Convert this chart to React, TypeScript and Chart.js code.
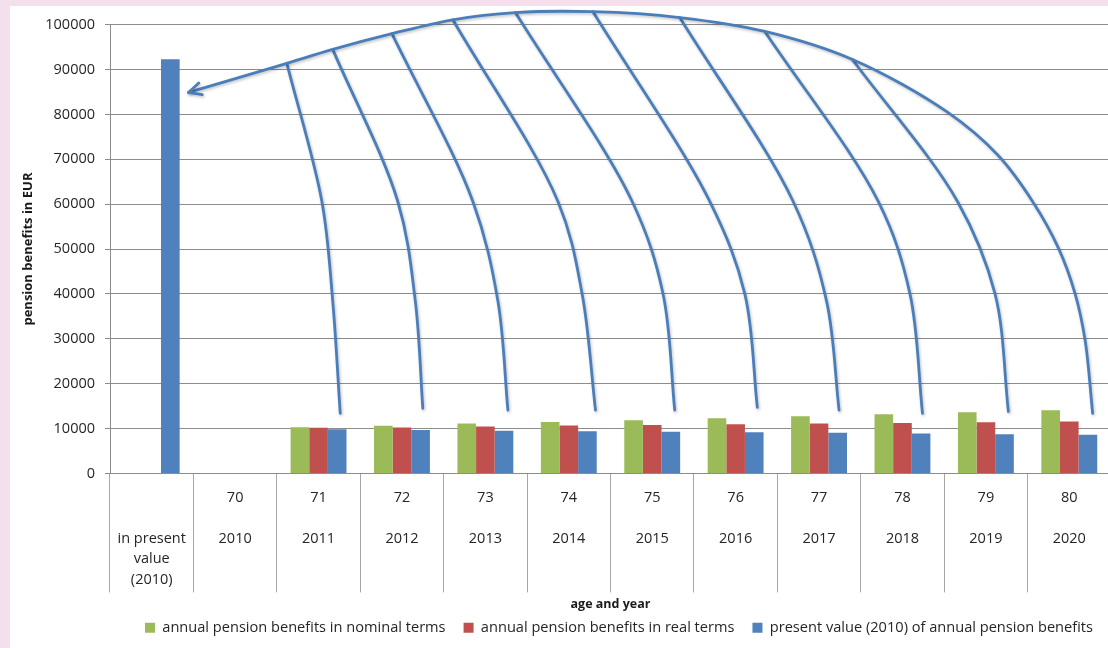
import { useEffect, useRef } from 'react';
import { Chart, registerables } from 'chart.js';

Chart.register(...registerables);

const FONT = "'Open Sans', 'DejaVu Sans', sans-serif";

// ---- data ----
const ages = ['', '70', '71', '72', '73', '74', '75', '76', '77', '78', '79', '80'];
const years = ['', '2010', '2011', '2012', '2013', '2014', '2015', '2016', '2017', '2018', '2019', '2020'];
const presentLabel = ['in present', 'value', '(2010)'];

const nominalTerms = [null, null, 10300, 10600, 11100, 11470, 11850, 12290, 12740, 13180, 13620, 14060];
const realTerms = [null, null, 10150, 10230, 10450, 10670, 10810, 10960, 11110, 11250, 11400, 11560];
const presentValue = [92300, null, 9860, 9700, 9480, 9410, 9260, 9190, 9040, 8900, 8750, 8600];

const seriesNames = [
  'annual pension benefits in nominal terms',
  'annual pension benefits in real terms',
  'present value (2010) of annual pension benefits',
];
const seriesColors = ['#9bbb59', '#c0504d', '#4f81bd'];

const yMin = 0;
const yMax = 100000;
const yStep = 10000;

// annotation arcs, in data space: [category index, EUR]
const mainArc: [number, number][] = [
  [0.44, 84900], [1.62, 91400], [2.17, 94500], [2.88, 98000], [3.61, 101100],
  [4.36, 102700], [5.29, 102900], [6.33, 101600], [7.35, 98500], [8.40, 92250],
  [9.54, 80500], [10.14, 71000], [10.56, 60600], [10.87, 50200], [11.07, 40000],
  [11.19, 29600], [11.28, 13400],
];
const branchArcs: [number, number][][] = [
  [[1.62, 91400], [2.04, 60600], [2.17, 38400], [2.26, 13400]],
  [[2.17, 94500], [2.95, 60600], [3.16, 38400], [3.25, 14500]],
  [[2.88, 98000], [3.85, 60600], [4.15, 38400], [4.27, 14100]],
  [[3.61, 101100], [4.87, 60600], [5.16, 40000], [5.32, 14100]],
  [[4.36, 102700], [5.76, 60600], [6.13, 40000], [6.27, 14100]],
  [[5.29, 102900], [6.69, 60600], [7.11, 40000], [7.26, 14700]],
  [[6.33, 101600], [7.69, 60600], [8.09, 38400], [8.24, 14100]],
  [[7.35, 98500], [8.71, 60600], [9.09, 40000], [9.24, 13400]],
  [[8.40, 92250], [9.66, 60600], [10.11, 40000], [10.27, 13800]],
];

function buildLabels() {
  return ages.map((a, i) => (i === 0 ? ['', '', ...presentLabel] : [a, '', years[i]]));
}

type Pt = { x: number; y: number };

function traceCentripetal(ctx: CanvasRenderingContext2D, P: Pt[]) {
  const n = P.length;
  ctx.beginPath();
  ctx.moveTo(P[0].x, P[0].y);
  for (let i = 0; i < n - 1; i++) {
    const p1 = P[i];
    const p2 = P[i + 1];
    const p0 = i > 0 ? P[i - 1] : { x: 2 * p1.x - p2.x, y: 2 * p1.y - p2.y };
    const p3 = i + 2 < n ? P[i + 2] : { x: 2 * p2.x - p1.x, y: 2 * p2.y - p1.y };
    const D1 = Math.hypot(p1.x - p0.x, p1.y - p0.y) || 1e-6;
    const D2 = Math.hypot(p2.x - p1.x, p2.y - p1.y) || 1e-6;
    const D3 = Math.hypot(p3.x - p2.x, p3.y - p2.y) || 1e-6;
    const d1 = Math.sqrt(D1);
    const d2 = Math.sqrt(D2);
    const d3 = Math.sqrt(D3);
    const k1 = 2 * D1 + 3 * d1 * d2 + D2;
    const m1 = 3 * d1 * (d1 + d2);
    const k2 = 2 * D3 + 3 * d3 * d2 + D2;
    const m2 = 3 * d3 * (d3 + d2);
    const c1x = (D1 * p2.x - D2 * p0.x + k1 * p1.x) / m1;
    const c1y = (D1 * p2.y - D2 * p0.y + k1 * p1.y) / m1;
    const c2x = (D3 * p1.x - D2 * p3.x + k2 * p2.x) / m2;
    const c2y = (D3 * p1.y - D2 * p3.y + k2 * p2.y) / m2;
    ctx.bezierCurveTo(c1x, c1y, c2x, c2y, p2.x, p2.y);
  }
  ctx.stroke();
}

const arcPlugin = {
  id: 'arcs',
  afterDatasetsDraw(chart: any) {
    const { ctx } = chart;
    const xs = chart.scales.x;
    const ys = chart.scales.y;
    const toPx = (p: [number, number]): Pt => ({ x: xs.getPixelForValue(p[0]), y: ys.getPixelForValue(p[1]) });
    ctx.save();
    ctx.strokeStyle = '#4a7ebb';
    ctx.lineWidth = 2.8;
    ctx.lineCap = 'round';
    ctx.lineJoin = 'round';
    ctx.shadowColor = 'rgba(0,0,0,0.25)';
    ctx.shadowBlur = 3;
    ctx.shadowOffsetX = 1;
    ctx.shadowOffsetY = 1.5;
    branchArcs.forEach((b) => traceCentripetal(ctx, b.map(toPx)));
    const P = mainArc.map(toPx);
    traceCentripetal(ctx, P);
    const tip = P[0];
    const nxt = P[1];
    const ang = Math.atan2(tip.y - nxt.y, tip.x - nxt.x);
    const len = 14;
    const spread = 0.45;
    ctx.beginPath();
    ctx.moveTo(tip.x - len * Math.cos(ang - spread), tip.y - len * Math.sin(ang - spread));
    ctx.lineTo(tip.x, tip.y);
    ctx.lineTo(tip.x - len * Math.cos(ang + spread), tip.y - len * Math.sin(ang + spread));
    ctx.stroke();
    ctx.restore();
  },
};

export default function App() {
  const ref = useRef<HTMLCanvasElement>(null);
  useEffect(() => {
    const values = [nominalTerms, realTerms, presentValue];
    const chart = new Chart(ref.current as HTMLCanvasElement, {
      type: 'bar',
      data: {
        labels: buildLabels(),
        datasets: seriesNames.map((name, i) => ({
          label: name,
          data: values[i],
          backgroundColor: seriesColors[i],
          borderWidth: 0,
          categoryPercentage: 0.67,
          barPercentage: 1,
        })),
      },
      options: {
        animation: false,
        responsive: false,
        layout: { padding: { top: 14, right: 0, bottom: 3, left: 0 } },
        plugins: {
          legend: {
            position: 'bottom',
            align: 'end',
            labels: {
              boxWidth: 10,
              boxHeight: 10,
              padding: 18,
              color: '#262626',
              font: { family: FONT, size: 14.6 },
            },
          },
          tooltip: { enabled: false },
        },
        scales: {
          x: {
            grid: {
              display: true,
              drawOnChartArea: false,
              drawTicks: true,
              tickLength: 119,
              offset: true,
              color: '#a6a6a6',
            },
            border: { display: true, color: '#8c8c8c' },
            ticks: {
              autoSkip: false,
              maxRotation: 0,
              padding: -105,
              color: '#262626',
              font: { family: FONT, size: 14.5, lineHeight: '20.5px' },
            },
            title: {
              display: true,
              text: 'age and year',
              color: '#1a1a1a',
              font: { family: FONT, size: 12.5, weight: 'bold' },
              padding: { top: 112.5, bottom: -10 },
            },
          },
          y: {
            min: yMin,
            max: yMax,
            grid: { color: '#8c8c8c', tickLength: 5 },
            border: { display: true, color: '#8c8c8c' },
            ticks: {
              stepSize: yStep,
              padding: 10,
              color: '#262626',
              font: { family: FONT, size: 14.5 },
              callback: (v: any) => String(v),
            },
            title: {
              display: true,
              text: 'pension benefits in EUR',
              color: '#1a1a1a',
              font: { family: FONT, size: 13, weight: 'bold' },
              padding: { top: 10, bottom: 0 },
            },
            afterFit: (s: any) => {
              s.width = 100;
            },
          },
        },
      } as any,
      plugins: [arcPlugin],
    });
    return () => chart.destroy();
  }, []);
  return (
    <div style={{ position: 'fixed', left: 0, top: 0, right: 0, bottom: 0, background: '#f4dfec', overflow: 'hidden' }}>
      <div style={{ position: 'absolute', left: 10, top: 6, width: 1101, height: 642, background: '#ffffff' }}>
        <canvas ref={ref} width={1101} height={642} style={{ display: 'block' }} />
      </div>
    </div>
  );
}
